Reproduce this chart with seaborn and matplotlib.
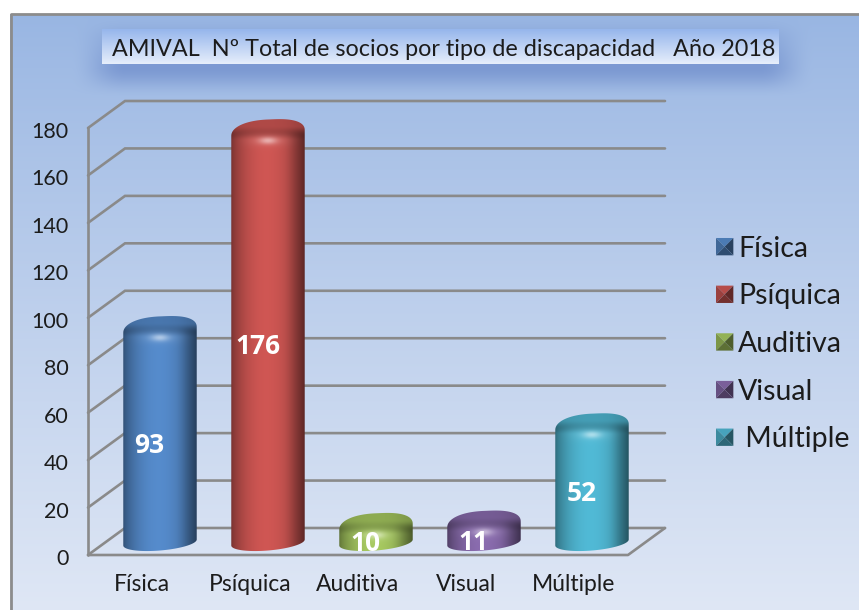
import numpy as np
import pandas as pd
import matplotlib
matplotlib.use("Agg")
import matplotlib.pyplot as plt
import seaborn as sns
from matplotlib.legend_handler import HandlerBase
from matplotlib.patches import Patch, PathPatch, Polygon, Rectangle
from matplotlib.path import Path
from matplotlib.transforms import ScaledTranslation

tipos = ["Física", "Psíquica", "Auditiva", "Visual", "Múltiple"]
socios = [93, 176, 10, 11, 52]
colores = ["#4f81bd", "#c0504d", "#9bbb59", "#8064a2", "#4bacc6"]
leyenda = ["Física", "Psíquica", "Auditiva", "Visual", " Múltiple"]
ticks_y = list(range(0, 181, 20))
titulo = "AMIVAL  Nº Total de socios por tipo de discapacidad   Año 2018"

FUENTE = "Lato"
GRIS = "#8a8a8a"
TEXTO = "#1c1c1c"

# pixels per unit in the main axes
PX_X = 108.0
PX_Y = 427.0 / 180


def hex_rgb(c):
    return np.array(matplotlib.colors.to_rgb(c))


def suave(a, b, x):
    t = np.clip((x - a) / (b - a), 0, 1)
    return t * t * (3 - 2 * t)


def fondo(ax):
    yy, xx = np.mgrid[0:610, 0:859]
    arriba = np.array([150, 180, 226]) / 255
    abajo = np.array([223, 231, 245]) / 255
    t = (yy[..., None] / 610.0) ** 0.9
    img = arriba + (abajo - arriba) * t

    # soft shadow behind the title box, stronger below it
    sx = suave(70, 125, xx) * (1 - suave(760, 815, xx))
    sy = suave(15, 38, yy) * (1 - suave(66, 98, yy))
    rampa = 0.3 + 0.45 * suave(25, 68, yy)
    sombra = (sx * sy * rampa)[..., None]
    color_s = np.array([112, 142, 204]) / 255
    img = img * (1 - sombra) + color_s * sombra

    ax.imshow(img, extent=(0, 859, 610, 0), aspect="auto", zorder=0)
    ax.add_patch(Rectangle((0, 0), 859, 14, fc="white", ec="none", zorder=1))
    ax.add_patch(Rectangle((0, 0), 10, 610, fc="white", ec="none", zorder=1))
    ax.plot([11, 11, 859], [610, 14, 14], color="#8c8c8c", lw=2, zorder=2)

    # title box
    t = np.linspace(0, 1, 60)[:, None, None]
    caja = np.array([150, 182, 236]) / 255 * (1 - t) + np.array([230, 238, 251]) / 255 * t
    ax.imshow(caja, extent=(102, 779, 64, 29), aspect="auto", zorder=3)
    ax.text(112, 49, titulo, fontsize=16.8, family=FUENTE, color=TEXTO,
            va="center", ha="left", zorder=4)
    ax.set_xlim(0, 859)
    ax.set_ylim(610, 0)
    ax.axis("off")


def rejilla(ax):
    dx = 37 / PX_X
    dy = 27 / PX_Y
    x0, x1 = -0.5, 4.5
    for v in ticks_y:
        ax.plot([x0, x0 + dx, x1 + dx], [v, v + dy, v + dy], color=GRIS, lw=1.9,
                clip_on=False, zorder=1, solid_joinstyle="miter")
    ax.plot([x0, x0], [0, 180], color=GRIS, lw=1.9, clip_on=False, zorder=1)
    ax.plot([x0, x1, x1 + dx], [0, 0, dy], color=GRIS, lw=1.9, clip_on=False, zorder=1)


def contorno(cx, a, v):
    # rounded cylinder outline, data units
    top = v + 19 / PX_Y
    yc_top = top - 14.5 / PX_Y
    b_top = 13.5 / PX_Y
    k = 3 / PX_Y
    yc_bot = 12.5 / PX_Y
    b_bot = 8 / PX_Y

    t = np.linspace(0, np.pi, 60)
    xs = np.sign(np.cos(t)) * np.abs(np.cos(t)) ** 0.8
    ys = np.sign(np.sin(t)) * np.abs(np.sin(t)) ** 0.9
    xa = cx + a * xs
    ya = yc_top + b_top * ys + k * np.cos(t)

    t2 = np.linspace(np.pi, 2 * np.pi, 60)
    xb = cx + a * np.cos(t2)
    yb = yc_bot + b_bot * np.sin(t2) + k * np.cos(t2)

    puntos = np.column_stack([np.r_[xa, xb], np.r_[ya, yb]])
    puntos = np.vstack([puntos, puntos[0]])
    return Path(puntos, closed=True)


def cilindro(ax, barra, color, v):
    dx = 18 / PX_X
    x = barra.get_x() + dx
    w = barra.get_width()
    cx = x + w / 2
    bot = 0.0
    top = barra.get_height() + 22 / PX_Y

    alto = max(int((top - bot) * PX_Y), 2)
    ancho = 80
    u = np.linspace(0, 1, ancho)[None, :]
    p = np.arange(alto)[:, None]

    # cylinder shading left to right
    luz = 0.62 + 0.46 * np.sin(np.pi * u ** 0.95) ** 0.75
    luz = luz * (1 - 0.22 * suave(0.7, 1, u))
    luz = np.repeat(luz, alto, axis=0)

    # darker cap, then a lit shoulder with a bright spot
    bajo_tapa = suave(10, 25, p)
    luz = luz * (0.2 + 0.8 * bajo_tapa) + 0.7 * (1 - 0.8 * bajo_tapa) * (1 - bajo_tapa)
    hombro = np.exp(-((p - 25) / 6.0) ** 2) * np.sin(np.pi * u) ** 2 * 0.1
    brillo = np.exp(-((u - 0.5) / 0.12) ** 2 - ((p - 25) / 3.5) ** 2) * 0.42

    base = hex_rgb(color)[None, None, :]
    img = np.clip(base * luz[..., None], 0, 1)
    img = img + (1 - img) * (hombro + brillo)[..., None]

    im = ax.imshow(img, extent=(x, x + w, bot, top), origin="upper",
                   aspect="auto", zorder=3, interpolation="bilinear")
    borde = PathPatch(contorno(cx, w / 2, v), transform=ax.transData,
                      fc="none", ec="none")
    ax.add_patch(borde)
    im.set_clip_path(borde)
    im.set_clip_box(ax.figure.bbox)


class CuadroBisel(HandlerBase):
    def create_artists(self, legend, orig, xd, yd, width, height, fontsize, trans):
        c = hex_rgb(orig.get_facecolor()[:3])
        x0, y0 = -xd, -yd
        lado = height
        x1, y1 = x0 + lado, y0 + lado
        mx, my = x0 + lado / 2, y0 + lado / 2
        caras = [
            ([(x0, y1), (x1, y1), (mx, my)], c * 0.95),
            ([(x0, y0), (x0, y1), (mx, my)], c * 0.8),
            ([(x1, y0), (x1, y1), (mx, my)], c * 0.5),
            ([(x0, y0), (x1, y0), (mx, my)], c * 0.6),
        ]
        out = []
        for pts, col in caras:
            pol = Polygon(pts, closed=True, fc=col, ec="none", transform=trans)
            out.append(pol)
        return out


df = pd.DataFrame({"tipo": tipos, "socios": socios})

sns.set_style("white")
fig = plt.figure(figsize=(8.59, 6.10), dpi=100)

ax_fondo = fig.add_axes([0, 0, 1, 1], zorder=0)
fondo(ax_fondo)

ax = fig.add_axes([88 / 859, (610 - 555) / 610, 540 / 859, 427 / 610], zorder=1)
ax.patch.set_alpha(0)

sns.barplot(data=df, x="tipo", y="socios", hue="tipo", palette=colores,
            width=0.68, dodge=False, legend=False, ax=ax)

barras = [b for cont in ax.containers for b in cont]
for barra, color, v in zip(barras, colores, socios):
    barra.set_visible(False)
    cilindro(ax, barra, color, v)
    ax.text(barra.get_x() + barra.get_width() / 2 + 0.07, v / 2 - 0.2, str(v),
            color="white", fontsize=19, fontweight="bold", family="Open Sans",
            ha="center", va="center", zorder=5)

rejilla(ax)

ax.set_xlim(-0.5, 4.5)
ax.set_ylim(0, 180)
ax.set_xlabel("")
ax.set_ylabel("")
ax.set_yticks(ticks_y)
ax.tick_params(axis="y", length=0, pad=14, labelsize=15.5, labelcolor=TEXTO)
ax.tick_params(axis="x", length=0, pad=14, labelsize=16.5, labelcolor=TEXTO)
for lab in ax.get_xticklabels() + ax.get_yticklabels():
    lab.set_family(FUENTE)
baja = ScaledTranslation(0, -2 / 100, fig.dpi_scale_trans)
for lab in ax.get_yticklabels():
    lab.set_transform(lab.get_transform() + baja)
sns.despine(ax=ax, left=True, bottom=True)

marcas = [Patch(facecolor=c) for c in colores]
ley = ax.legend(marcas, leyenda, loc="center left", frameon=False,
                bbox_to_anchor=(716 / 859, (610 - 344) / 610),
                bbox_transform=fig.transFigure,
                prop={"family": FUENTE, "size": 20.5},
                handler_map={Patch: CuadroBisel()},
                handlelength=0.56, handleheight=0.56, handletextpad=0.21,
                labelspacing=0.76, borderpad=0, borderaxespad=0)
for t in ley.get_texts():
    t.set_color(TEXTO)

fig.savefig("out.png", dpi=100)
plt.close(fig)
